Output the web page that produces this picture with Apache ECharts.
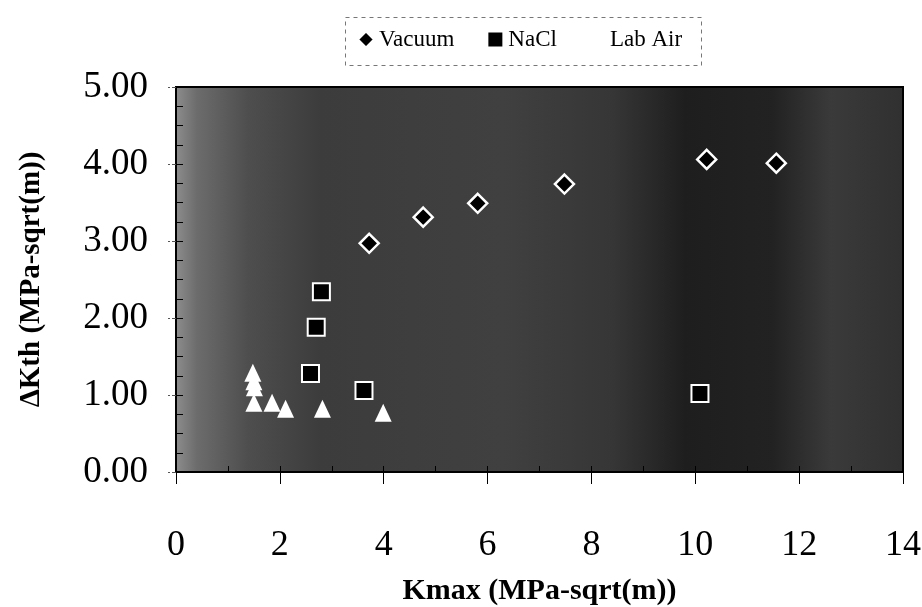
<!DOCTYPE html>
<html>
<head>
<meta charset="utf-8">
<script src="https://cdn.jsdelivr.net/npm/echarts@6/dist/echarts.min.js"></script>
<style>
  html, body { margin: 0; padding: 0; background: #fff; }
  #chart { width: 922px; height: 607px; }
</style>
</head>
<body>
<div id="chart"></div>
<script>
// values
const vacuumX = [3.72, 4.76, 5.81, 7.48, 10.22, 11.56]
const vacuumY = [2.97, 3.31, 3.49, 3.74, 4.06, 4.01]

const naclX = [2.80, 2.70, 2.59, 3.62, 10.09]
const naclY = [2.34, 1.88, 1.28, 1.06, 1.02]

const labAirX = [1.48, 1.50, 1.51, 1.50, 1.85, 2.11, 2.82, 3.99]
const labAirY = [1.29, 1.18, 1.10, 0.90, 0.90, 0.82, 0.82, 0.77]

const xTicks = [0, 2, 4, 6, 8, 10, 12, 14]
const yTicks = [0, 1, 2, 3, 4, 5]

const serif = 'Liberation Serif'

const pairs = (xs, ys) => xs.map((x, i) => [x, ys[i]])

const chart = echarts.init(document.getElementById('chart'))

const grid = {
  left: 176,
  right: 19,
  top: 87,
  bottom: 135,
  outerBoundsMode: 'none',
  containLabel: false,
  show: true,
  borderColor: '#000',
  borderWidth: 2,
  backgroundColor: {
    type: 'linear',
    x: 0, y: 0, x2: 1, y2: 0,
    colorStops: [
      { offset: 0, color: '#8e8e8e' },
      { offset: 0.03, color: '#6c6c6c' },
      { offset: 0.1, color: '#4e4e4e' },
      { offset: 0.2, color: '#3c3c3c' },
      { offset: 0.45, color: '#404040' },
      { offset: 0.6, color: '#363636' },
      { offset: 0.7, color: '#1e1e1e' },
      { offset: 0.82, color: '#222' },
      { offset: 0.9, color: '#3a3a3a' },
      { offset: 1, color: '#303030' },
    ],
  },
}

const option = {
  animation: false,
  backgroundColor: '#fff',
  textStyle: { fontFamily: serif },
  grid,
  graphic: [
    {
      type: 'rect',
      left: 343,
      top: 15,
      z: -1,
      shape: { width: 356, height: 48 },
      style: { fill: 'none', stroke: '#777', lineWidth: 1, lineDash: [4, 4] },
    },
  ],
  legend: {
    left: 352,
    top: 23,
    padding: [5, 5],
    itemWidth: 16,
    itemHeight: 16,
    itemGap: 32,
    textStyle: { fontFamily: serif, fontSize: 23, color: '#000' },
    data: ['Vacuum', 'NaCl', 'Lab Air'],
  },
  xAxis: [
    {
      type: 'value',
      min: 0,
      max: 14,
      interval: 2,
      name: 'Kmax (MPa-sqrt(m))',
      nameLocation: 'middle',
      nameGap: 104,
      nameTextStyle: { fontFamily: serif, fontSize: 30, fontWeight: 'bold', color: '#000' },
      axisLine: { lineStyle: { color: '#000', width: 2 } },
      axisTick: { length: 12, lineStyle: { color: '#000' } },
      axisLabel: {
        margin: 56,
        fontFamily: serif,
        fontSize: 36,
        color: '#000',
        customValues: xTicks,
      },
      splitLine: { show: false },
    },
    {
      // inside ticks at every unit along the bottom edge
      type: 'value',
      position: 'bottom',
      min: 0,
      max: 14,
      interval: 1,
      axisLine: { show: false },
      axisTick: { inside: true, length: 6, lineStyle: { color: '#000' } },
      axisLabel: { show: false },
      splitLine: { show: false },
    },
  ],
  yAxis: [
    {
      type: 'value',
      min: 0,
      max: 5,
      interval: 1,
      name: 'ΔKth (MPa-sqrt(m))',
      nameLocation: 'middle',
      nameGap: 130,
      nameTextStyle: { fontFamily: serif, fontSize: 29, fontWeight: 'bold', color: '#000' },
      axisLine: { show: true, lineStyle: { color: '#000', width: 2 } },
      axisTick: { show: true, length: 8, lineStyle: { color: '#555', type: 'dashed' } },
      axisLabel: {
        margin: 28,
        fontFamily: serif,
        fontSize: 37,
        color: '#000',
        customValues: yTicks,
        formatter: (v) => v.toFixed(2),
      },
      splitLine: { show: false },
    },
    {
      // inside ticks along the left edge
      type: 'value',
      position: 'left',
      min: 0,
      max: 5,
      interval: 0.25,
      axisLine: { show: false },
      axisTick: { show: true, inside: true, length: 7, lineStyle: { color: '#000' } },
      axisLabel: { show: false },
      splitLine: { show: false },
    },
  ],
  series: [
    {
      name: 'Vacuum',
      type: 'scatter',
      symbol: 'diamond',
      symbolSize: 19,
      itemStyle: { color: '#000', borderColor: '#fff', borderWidth: 2.5, opacity: 1 },
      data: pairs(vacuumX, vacuumY),
      z: 3,
    },
    {
      name: 'NaCl',
      type: 'scatter',
      symbol: 'rect',
      symbolSize: 17,
      itemStyle: { color: '#000', borderColor: '#fff', borderWidth: 2, opacity: 1 },
      data: pairs(naclX, naclY),
      z: 3,
    },
    {
      name: 'Lab Air',
      type: 'scatter',
      symbol: 'triangle',
      symbolSize: [17, 18],
      itemStyle: { color: '#fff', opacity: 1 },
      data: pairs(labAirX, labAirY),
      z: 4,
    },
  ],
}

chart.setOption(option)
</script>
</body>
</html>
